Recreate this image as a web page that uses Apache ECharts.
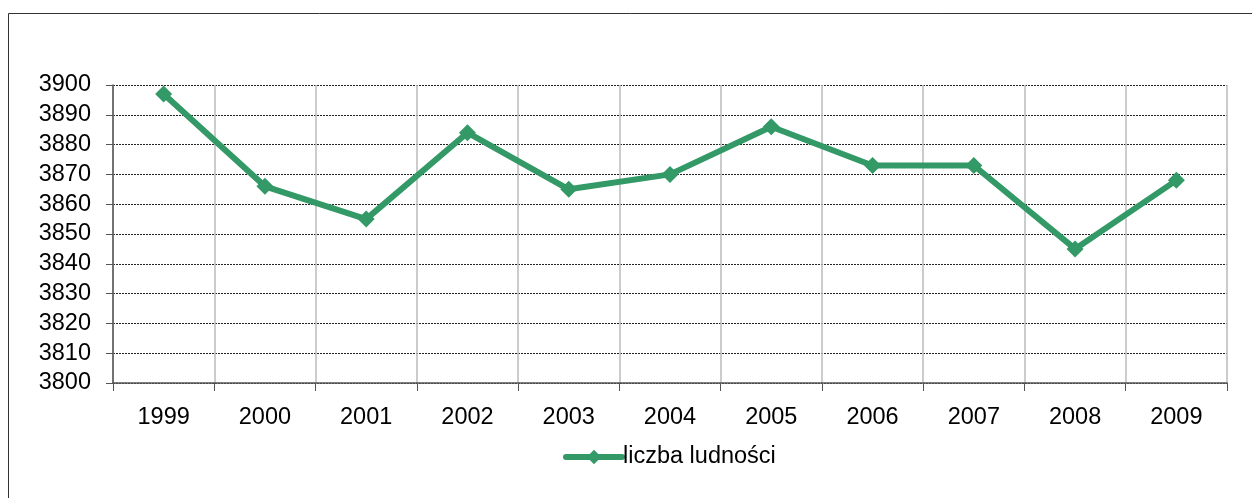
<!DOCTYPE html>
<html><head><meta charset="utf-8">
<script src="https://cdn.jsdelivr.net/npm/echarts@6/dist/echarts.min.js"></script>
<style>html,body{margin:0;padding:0;background:#fff}#c{width:1252px;height:498px}</style>
</head><body><div id="c"></div>
<script>
const categories = ['1999','2000','2001','2002','2003','2004','2005','2006','2007','2008','2009'];
const values = [3897, 3866, 3855, 3884, 3865, 3870, 3886, 3873, 3873, 3845, 3868];
const seriesName = 'liczba ludności';
const yMin = 3800, yMax = 3900, yStep = 10;

const chart = echarts.init(document.getElementById('c'));
chart.setOption({
  animation: false,
  backgroundColor: '#fff',
  textStyle: { fontFamily: 'Liberation Sans, Arial, sans-serif' },
  graphic: [{
    type: 'rect', shape: { x: 8.5, y: 13.5, width: 1260, height: 500 },
    style: { fill: 'none', stroke: '#333', lineWidth: 1 }, silent: true, z: -1
  }],
  grid: { left: 113, right: 25, top: 85, bottom: 115, containLabel: false },
  xAxis: {
    type: 'category', data: categories, boundaryGap: true,
    axisLine: { lineStyle: { color: '#555', width: 1.5 } },
    axisTick: { show: true, alignWithLabel: false, length: 8, lineStyle: { color: '#555' } },
    axisLabel: { color: '#000', fontSize: 23.5, margin: 23 },
    splitLine: { show: true, lineStyle: { color: '#bbb', width: 1.5 } }
  },
  yAxis: {
    type: 'value', min: yMin, max: yMax, interval: yStep,
    axisLine: { show: true, lineStyle: { color: '#555', width: 1.5 } },
    axisTick: { show: true, inside: false, length: 7, lineStyle: { color: '#555' } },
    axisLabel: { color: '#000', fontSize: 23.5, margin: 22, formatter: v => String(v) },
    splitLine: { show: true, lineStyle: { color: '#222', type: [2, 1], width: 1 } }
  },
  legend: {
    show: true, top: 440, left: 558, itemWidth: 56, itemHeight: 18, itemGap: 4,
    textStyle: { color: '#000', fontSize: 23.5, padding: [0,0,0,-4] },
    lineStyle: { width: 6, cap: 'round' },
    data: [{ name: seriesName }]
  },
  series: [{
    name: seriesName, type: 'line', data: values,
    symbol: 'diamond', symbolSize: 17,
    lineStyle: { color: '#339966', width: 6, cap: 'round' },
    itemStyle: { color: '#339966' }
  }]
});
</script></body></html>
